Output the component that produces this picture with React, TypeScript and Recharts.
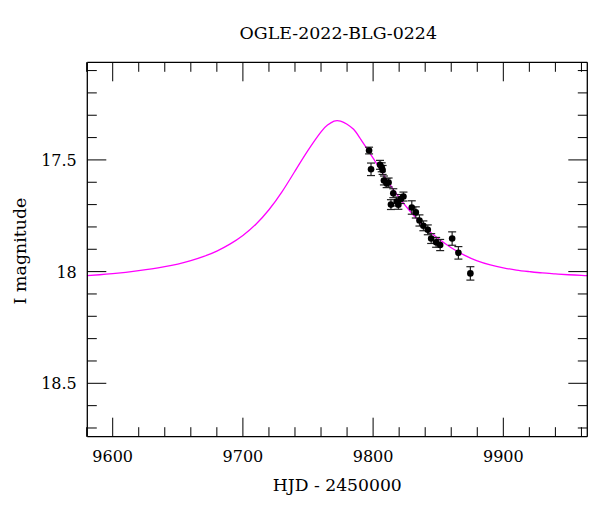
import React from "react";
import {
  ComposedChart,
  Line,
  Scatter,
  ErrorBar,
  XAxis,
  YAxis,
  Label,
} from "recharts";

// observed photometry (HJD - 2450000, I mag, error)
const obsHjd = [
  9796.9, 9798.4, 9805.3, 9806.6, 9807.3, 9808.3, 9810.4, 9811.9, 9815.5, 9813.7,
  9818.1, 9819.4, 9821.2, 9823.3, 9829.7, 9832.8, 9835.6, 9838.6, 9842.0, 9844.6,
  9848.4, 9851.5, 9860.7, 9865.5, 9874.7,
];
const obsMag = [
  17.458, 17.542, 17.522, 17.533, 17.545, 17.592, 17.604, 17.601, 17.649, 17.7,
  17.686, 17.701, 17.675, 17.664, 17.713, 17.735, 17.771, 17.795, 17.813, 17.852,
  17.869, 17.881, 17.852, 17.916, 18.008,
];
const obsErr = [
  0.015, 0.028, 0.02, 0.02, 0.02, 0.02, 0.02, 0.02, 0.02, 0.022,
  0.02, 0.02, 0.02, 0.02, 0.03, 0.025, 0.025, 0.022, 0.022, 0.022,
  0.022, 0.025, 0.03, 0.028, 0.03,
];

// model light curve
const modelHjd = [
  9580, 9590, 9600, 9610, 9620, 9630, 9640, 9650, 9660, 9670, 9680, 9690, 9700,
  9710, 9720, 9730, 9740, 9750, 9760, 9765, 9770, 9775, 9780, 9785, 9790, 9800,
  9810, 9820, 9830, 9840, 9850, 9860, 9870, 9880, 9890, 9900, 9910, 9920, 9930,
  9940, 9950, 9960, 9965,
];
const modelMag = [
  18.018, 18.014, 18.009, 18.003, 17.996, 17.988, 17.978, 17.966, 17.951, 17.932,
  17.908, 17.877, 17.838, 17.788, 17.723, 17.643, 17.55, 17.457, 17.374, 17.344,
  17.326, 17.326, 17.34, 17.363, 17.403, 17.492, 17.585, 17.669, 17.741, 17.802,
  17.852, 17.893, 17.926, 17.952, 17.97, 17.983, 17.993, 18.0, 18.006, 18.01,
  18.014, 18.017, 18.018,
];

const xTicks = [
  9580, 9600, 9620, 9640, 9660, 9680, 9700, 9720, 9740, 9760, 9780, 9800, 9820,
  9840, 9860, 9880, 9900, 9920, 9940, 9960,
];
const yTicks = [
  17.1, 17.2, 17.3, 17.4, 17.5, 17.6, 17.7, 17.8, 17.9, 18.0, 18.1, 18.2, 18.3,
  18.4, 18.5, 18.6, 18.7,
];

const title = "OGLE-2022-BLG-0224";
const xTitle = "HJD - 2450000";
const yTitle = "I magnitude";

const obsData = obsHjd.map((x, i) => ({ x, y: obsMag[i], err: obsErr[i] }));
const modelData = modelHjd.map((x, i) => ({ x, y: modelMag[i] }));

const FONT = "DejaVu Serif";
const MAJOR = 19;
const MINOR = 9.5;
const PLOT_H = 374.4;

const isMajorX = (v: number) => v % 100 === 0;
const isMajorY = (v: number) => Math.abs(v * 2 - Math.round(v * 2)) < 1e-6;

const BottomTick = (p: any) => {
  const v = p.payload.value;
  const major = isMajorX(v);
  return (
    <g>
      <line x1={p.x} x2={p.x} y1={p.y} y2={p.y - (major ? MAJOR : MINOR)} stroke="#000" strokeWidth={1} />
      {major && (
        <text x={p.x} y={p.y + 25} textAnchor="middle" fontFamily={FONT} fontSize={16} fill="#000">
          {v}
        </text>
      )}
    </g>
  );
};

const TopTick = (p: any) => {
  const major = isMajorX(p.payload.value);
  return <line x1={p.x} x2={p.x} y1={p.y} y2={p.y + (major ? MAJOR : MINOR)} stroke="#000" strokeWidth={1} />;
};

const LeftTick = (p: any) => {
  const v = p.payload.value;
  const major = isMajorY(v);
  return (
    <g>
      <line x1={p.x} x2={p.x + (major ? MAJOR : MINOR)} y1={p.y} y2={p.y} stroke="#000" strokeWidth={1} />
      {major && (
        <text x={p.x - 10.5} y={p.y + 6} textAnchor="end" fontFamily={FONT} fontSize={16} fill="#000">
          {String(Math.round(v * 10) / 10)}
        </text>
      )}
    </g>
  );
};

const RightTick = (p: any) => {
  const major = isMajorY(p.payload.value);
  return <line x1={p.x} x2={p.x - (major ? MAJOR : MINOR)} y1={p.y} y2={p.y} stroke="#000" strokeWidth={1} />;
};

const Dot = (p: any) => <circle cx={p.cx} cy={p.cy} r={3.3} fill="#000" />;

export default function App() {
  return (
    <ComposedChart
      width={592}
      height={504}
      margin={{ top: 53.3, right: 11.7, bottom: 20.3, left: 9.3 }}
    >
      <XAxis
        xAxisId="b"
        dataKey="x"
        type="number"
        domain={[9580.5, 9964.5]}
        allowDataOverflow
        ticks={xTicks}
        interval={0}
        tickLine={false}
        tickSize={0}
        tickMargin={0}
        tick={BottomTick}
        height={55}
        axisLine={{ stroke: "#000", strokeWidth: 1.3 }}
      >
        <Label
          content={(props: any) => {
            const vb = props.viewBox || {};
            const cx = vb.x + vb.width / 2;
            return (
              <g>
                <text x={cx} y={vb.y + vb.height - 1} textAnchor="middle" fontFamily={FONT} fontSize={17.2} fill="#000">
                  {xTitle}
                </text>
                <text x={cx + 1} y={vb.y - PLOT_H - 23.3} textAnchor="middle" fontFamily={FONT} fontSize={17.4} fill="#000">
                  {title}
                </text>
              </g>
            );
          }}
        />
      </XAxis>
      <XAxis
        xAxisId="t"
        dataKey="x"
        type="number"
        orientation="top"
        domain={[9580.5, 9964.5]}
        allowDataOverflow
        ticks={xTicks}
        interval={0}
        tickLine={false}
        tickSize={0}
        tickMargin={0}
        tick={TopTick}
        height={1}
        axisLine={{ stroke: "#000", strokeWidth: 1.3 }}
      />
      <YAxis
        yAxisId="l"
        type="number"
        reversed
        domain={[17.063, 18.739]}
        allowDataOverflow
        ticks={yTicks}
        interval={0}
        tickLine={false}
        tickSize={0}
        tickMargin={0}
        tick={LeftTick}
        width={70}
        axisLine={{ stroke: "#000", strokeWidth: 1.3 }}
      >
        <Label
          content={(props: any) => {
            const vb = props.viewBox || {};
            const cx = vb.x + 8.5;
            const cy = vb.y + vb.height / 2 + 1.5;
            return (
              <text x={cx} y={cy} transform={`rotate(-90 ${cx} ${cy})`} textAnchor="middle" fontFamily={FONT} fontSize={17.4} fill="#000">
                {yTitle}
              </text>
            );
          }}
        />
      </YAxis>
      <YAxis
        yAxisId="r"
        type="number"
        orientation="right"
        reversed
        domain={[17.063, 18.739]}
        allowDataOverflow
        ticks={yTicks}
        interval={0}
        tickLine={false}
        tickSize={0}
        tickMargin={0}
        tick={RightTick}
        width={1}
        axisLine={{ stroke: "#000", strokeWidth: 1.3 }}
      />
      <Line
        xAxisId="b"
        yAxisId="l"
        data={modelData}
        dataKey="y"
        type="natural"
        stroke="#ff00ff"
        strokeWidth={1.3}
        dot={false}
        activeDot={false}
        isAnimationActive={false}
      />
      <Scatter
        xAxisId="b"
        yAxisId="l"
        data={obsData}
        dataKey="y"
        shape={Dot}
        isAnimationActive={false}
      >
        <ErrorBar dataKey="err" direction="y" width={4} stroke="#222" strokeWidth={1.2} isAnimationActive={false} />
      </Scatter>
    </ComposedChart>
  );
}
